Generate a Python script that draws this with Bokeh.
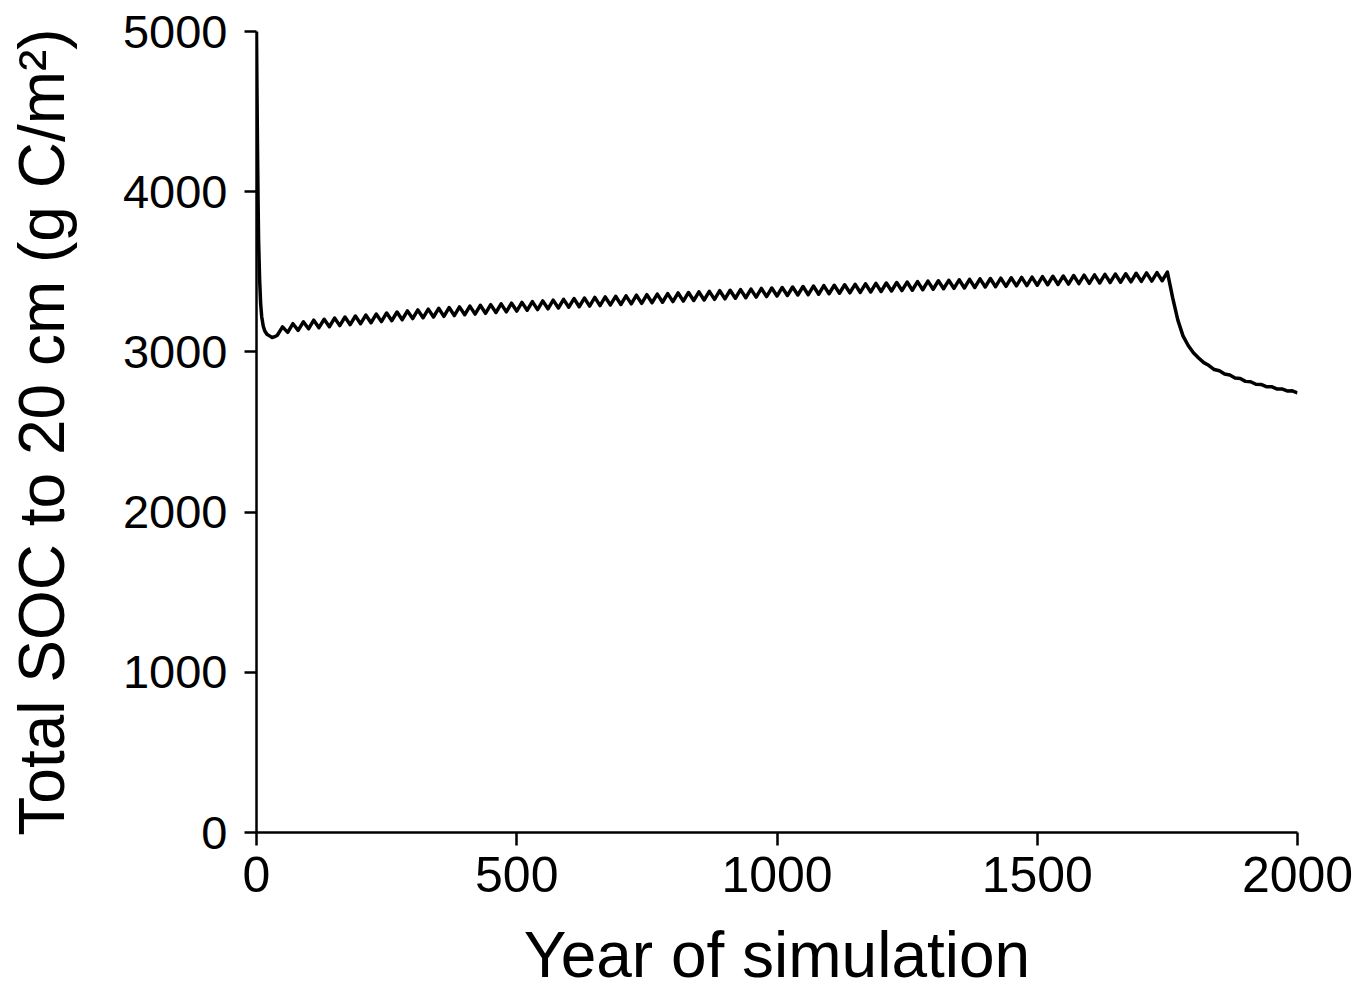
from bokeh.plotting import figure
from bokeh.models import Range1d, FixedTicker
from bokeh.embed import file_html
from bokeh.resources import INLINE

# Spin-up: rapid loss from the initial pool
spinup_years = [0, 1, 2, 3, 4, 6, 8, 10, 13, 16, 20, 25, 30, 35]
spinup_soc = [5000, 4600, 4250, 3950, 3700, 3450, 3300, 3220, 3160, 3130,
              3110, 3100, 3090, 3095]

# Cyclic period: decade steps from year 40 to 1750
cycle_years = list(range(40, 1751, 10))
cycle_soc = [
    3104, 3156, 3122, 3176, 3134, 3188, 3144, 3198, 3151, 3204,
    3157, 3211, 3164, 3218, 3170, 3224, 3176, 3230, 3182, 3236,
    3189, 3243, 3195, 3249, 3201, 3256, 3208, 3262, 3213, 3267,
    3218, 3272, 3222, 3277, 3227, 3281, 3232, 3286, 3236, 3291,
    3241, 3295, 3246, 3300, 3250, 3304, 3255, 3309, 3260, 3314,
    3264, 3318, 3269, 3323, 3274, 3328, 3279, 3333, 3282, 3336,
    3286, 3340, 3289, 3343, 3293, 3347, 3296, 3350, 3300, 3354,
    3303, 3357, 3307, 3361, 3310, 3364, 3314, 3368, 3317, 3371,
    3321, 3375, 3324, 3378, 3328, 3382, 3331, 3385, 3335, 3389,
    3338, 3392, 3342, 3396, 3345, 3399, 3349, 3402, 3352, 3405,
    3355, 3408, 3357, 3411, 3360, 3414, 3363, 3416, 3366, 3419,
    3369, 3422, 3371, 3425, 3374, 3428, 3377, 3430, 3380, 3433,
    3383, 3436, 3385, 3439, 3388, 3442, 3391, 3444, 3394, 3447,
    3397, 3450, 3399, 3453, 3402, 3456, 3405, 3458, 3407, 3460,
    3409, 3463, 3412, 3465, 3414, 3467, 3416, 3470, 3419, 3472,
    3421, 3474, 3423, 3477, 3426, 3479, 3428, 3481, 3430, 3484,
    3433, 3486, 3435, 3488, 3437, 3491, 3440, 3493, 3442, 3495,
    3444, 3498,
]

# Decline after the change in management
decline_years = [1755, 1760, 1770, 1780, 1790, 1800, 1810, 1820, 1830, 1840,
                 1850, 1860, 1870, 1880, 1890, 1900, 1910, 1920, 1930, 1940,
                 1950, 1960, 1970, 1980, 1990, 2000]
decline_soc = [3420, 3340, 3200, 3100, 3040, 2995, 2962, 2933, 2915, 2890,
               2882, 2862, 2856, 2837, 2834, 2816, 2814, 2798, 2797, 2783,
               2783, 2769, 2769, 2756, 2757, 2744]

x_ticks = [0, 500, 1000, 1500, 2000]
y_ticks = [0, 1000, 2000, 3000, 4000, 5000]

years = spinup_years + cycle_years + decline_years
soc = spinup_soc + cycle_soc + decline_soc

FONT = "Liberation Sans"

p = figure(width=1370, height=993,
           x_range=Range1d(0, 2000), y_range=Range1d(0, 5000),
           output_backend="svg", toolbar_location=None,
           min_border_left=256, min_border_right=73,
           min_border_top=31, min_border_bottom=160)

p.outline_line_color = None
p.xgrid.grid_line_color = None
p.ygrid.grid_line_color = None
p.background_fill_color = "white"
p.border_fill_color = "white"

p.line(years, soc, line_color="black", line_width=3.5, line_join="round")

for ax in (p.xaxis[0], p.yaxis[0]):
    ax.axis_line_width = 2.5
    ax.axis_line_color = "black"
    ax.major_tick_line_width = 2.5
    ax.major_tick_line_color = "black"
    ax.major_tick_in = 0
    ax.minor_tick_line_color = None
    ax.major_label_text_font = FONT
    ax.major_label_text_color = "black"
    ax.axis_label_text_font = FONT
    ax.axis_label_text_font_style = "normal"
    ax.axis_label_text_color = "black"
    ax.axis_label_text_font_size = "64px"

xa = p.xaxis[0]
xa.ticker = FixedTicker(ticks=x_ticks)
xa.major_tick_out = 13
xa.major_label_standoff = 11
xa.major_label_text_font_size = "50px"
xa.axis_label = "Year of simulation"
xa.axis_label_standoff = 24

ya = p.yaxis[0]
ya.ticker = FixedTicker(ticks=y_ticks)
ya.major_tick_out = 12
ya.major_label_standoff = 17
ya.major_label_text_font_size = "47px"
ya.axis_label = "Total SOC to 20 cm (g C/m²)"
ya.axis_label_standoff = 42

open("out.html", "w").write(file_html(p, INLINE))
